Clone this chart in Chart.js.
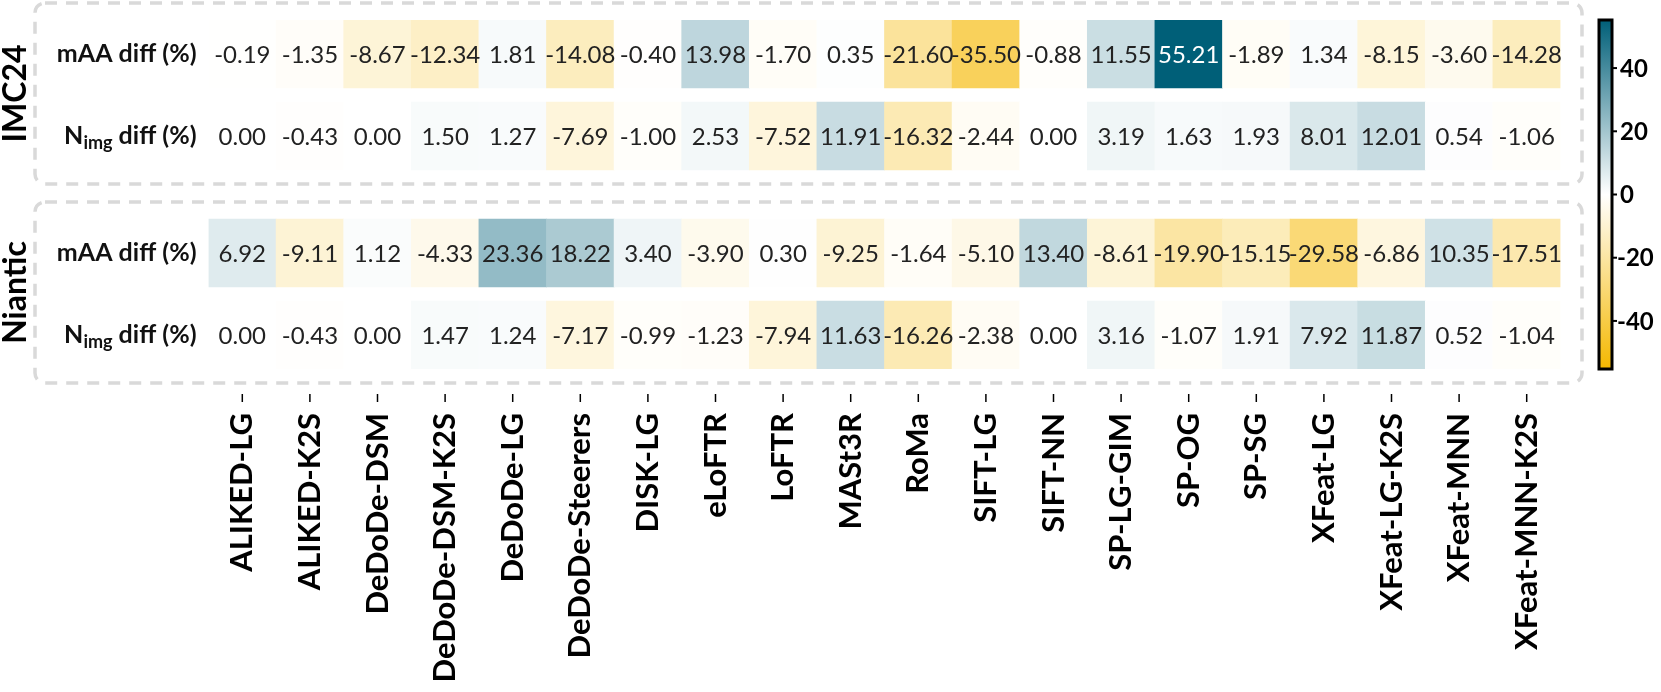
<!DOCTYPE html>
<html>
<head>
<meta charset="utf-8">
<script src="https://cdn.jsdelivr.net/npm/chart.js"></script>
<style>
  body { margin: 0; background: #fff; }
  #wrap { width: 1661px; height: 692px; }
</style>
</head>
<body>
<div id="wrap"><canvas id="heatChart" width="1661" height="692"></canvas></div>
<script>
const methods = ["ALIKED-LG", "ALIKED-K2S", "DeDoDe-DSM", "DeDoDe-DSM-K2S", "DeDoDe-LG",
  "DeDoDe-Steerers", "DISK-LG", "eLoFTR", "LoFTR", "MASt3R", "RoMa", "SIFT-LG", "SIFT-NN",
  "SP-LG-GIM", "SP-OG", "SP-SG", "XFeat-LG", "XFeat-LG-K2S", "XFeat-MNN", "XFeat-MNN-K2S"];

const imcMaa = [-0.19, -1.35, -8.67, -12.34, 1.81, -14.08, -0.40, 13.98, -1.70, 0.35,
  -21.60, -35.50, -0.88, 11.55, 55.21, -1.89, 1.34, -8.15, -3.60, -14.28];
const imcNimg = [0.00, -0.43, 0.00, 1.50, 1.27, -7.69, -1.00, 2.53, -7.52, 11.91,
  -16.32, -2.44, 0.00, 3.19, 1.63, 1.93, 8.01, 12.01, 0.54, -1.06];
const nianticMaa = [6.92, -9.11, 1.12, -4.33, 23.36, 18.22, 3.40, -3.90, 0.30, -9.25,
  -1.64, -5.10, 13.40, -8.61, -19.90, -15.15, -29.58, -6.86, 10.35, -17.51];
const nianticNimg = [0.00, -0.43, 0.00, 1.47, 1.24, -7.17, -0.99, -1.23, -7.94, 11.63,
  -16.26, -2.38, 0.00, 3.16, -1.07, 1.91, 7.92, 11.87, 0.52, -1.04];

const groups = ["IMC24", "Niantic"];
const rowKinds = ["maa", "nimg"];
const cbTicks = [-40, -20, 0, 20, 40];
const cbLimit = 55.21;

// row bands on the y scale (units = px of the plot area)
const bands = [[0, 68], [82, 150], [199, 267], [281, 349]];
const rows = [imcMaa, imcNimg, nianticMaa, nianticNimg];

const POS = [0, 95, 120];   // teal end
const NEG = [245, 184, 0];  // amber end

function cellRgb(v) {
  const t = Math.min(Math.abs(v) / cbLimit, 1);
  const end = v >= 0 ? POS : NEG;
  return end.map(c => Math.round(255 + (c - 255) * t));
}
function cellColor(v) {
  return "rgb(" + cellRgb(v).join(",") + ")";
}
function textColor(v) {
  const c = cellRgb(v);
  const lum = 0.299 * c[0] + 0.587 * c[1] + 0.114 * c[2];
  return lum < 120 ? "#ffffff" : "#222222";
}

const datasets = rows.map((vals, r) => ({
  label: groups[Math.floor(r / 2)] + " " + rowKinds[r % 2],
  values: vals,
  data: vals.map(() => bands[r]),
  backgroundColor: vals.map(cellColor),
  borderWidth: 0,
  borderSkipped: false,
  yAxisID: "y",
  grouped: false,
  barPercentage: 1,
  categoryPercentage: 1
}));

const cellText = {
  id: "cellText",
  afterDatasetsDraw(chart) {
    const ctx = chart.ctx;
    ctx.save();
    ctx.font = "24px Lato";
    ctx.textAlign = "center";
    ctx.textBaseline = "middle";
    chart.data.datasets.forEach((ds, di) => {
      chart.getDatasetMeta(di).data.forEach((bar, i) => {
        const v = ds.values[i];
        ctx.fillStyle = textColor(v);
        ctx.fillText(v.toFixed(2), bar.x, (bar.y + bar.base) / 2 + 1);
      });
    });
    ctx.restore();
  }
};

function roundRect(ctx, x, y, w, h, r) {
  ctx.beginPath();
  ctx.moveTo(x + r, y);
  ctx.lineTo(x + w - r, y);
  ctx.arcTo(x + w, y, x + w, y + r, r);
  ctx.lineTo(x + w, y + h - r);
  ctx.arcTo(x + w, y + h, x + w - r, y + h, r);
  ctx.lineTo(x + r, y + h);
  ctx.arcTo(x, y + h, x, y + h - r, r);
  ctx.lineTo(x, y + r);
  ctx.arcTo(x, y, x + r, y, r);
  ctx.closePath();
}

const decor = {
  id: "decor",
  afterDraw(chart) {
    const ctx = chart.ctx;
    const ys = chart.scales.y;
    const xs = chart.scales.x;
    const cb = chart.scales.cb;
    const area = chart.chartArea;
    ctx.save();

    // row labels
    ctx.fillStyle = "#111";
    ctx.textBaseline = "middle";
    const big = "bold 25px Lato", small = "bold 18px Lato";
    rows.forEach((vals, r) => {
      const yc = (ys.getPixelForValue(bands[r][0]) + ys.getPixelForValue(bands[r][1])) / 2;
      const xr = area.left - 12;
      if (rowKinds[r % 2] === "maa") {
        ctx.font = big;
        ctx.textAlign = "right";
        ctx.fillText("mAA diff (%)", xr, yc);
      } else {
        ctx.textAlign = "left";
        ctx.font = big;
        const wN = ctx.measureText("N").width;
        const wD = ctx.measureText(" diff (%)").width;
        ctx.font = small;
        const wS = ctx.measureText("img").width;
        let x = xr - wN - wS - wD;
        ctx.font = big;
        ctx.fillText("N", x, yc);
        x += wN;
        ctx.font = small;
        ctx.fillText("img", x, yc + 7);
        x += wS;
        ctx.font = big;
        ctx.fillText(" diff (%)", x, yc);
      }
    });

    // dashed group boxes and group titles
    [[0, 1], [2, 3]].forEach((pair, g) => {
      const top = ys.getPixelForValue(bands[pair[0]][0]) - 17;
      const bot = ys.getPixelForValue(bands[pair[1]][1]) + 14;
      ctx.setLineDash([12, 9]);
      ctx.lineWidth = 3.5;
      ctx.strokeStyle = "#d9d9d9";
      roundRect(ctx, 35, top, 1582 - 35, bot - top, 10);
      ctx.stroke();
      ctx.setLineDash([]);
      ctx.save();
      ctx.translate(16, (top + bot) / 2);
      ctx.rotate(-Math.PI / 2);
      ctx.font = "bold 32px Lato";
      ctx.fillStyle = "#000";
      ctx.textAlign = "center";
      ctx.textBaseline = "middle";
      ctx.fillText(groups[g], 0, 0);
      ctx.restore();
    });

    // x tick marks
    ctx.strokeStyle = "#000";
    ctx.lineWidth = 1.5;
    methods.forEach((m, i) => {
      const x = xs.getPixelForTick(i);
      ctx.beginPath();
      ctx.moveTo(x, area.bottom + 25);
      ctx.lineTo(x, area.bottom + 33);
      ctx.stroke();
    });

    // colour bar
    const x0 = 1599, x1 = 1612;
    const yTop = cb.getPixelForValue(cbLimit);
    const yBot = cb.getPixelForValue(-cbLimit);
    const grad = ctx.createLinearGradient(0, yTop, 0, yBot);
    grad.addColorStop(0, cellColor(cbLimit));
    grad.addColorStop(0.5, "#ffffff");
    grad.addColorStop(1, cellColor(-cbLimit));
    ctx.fillStyle = grad;
    ctx.fillRect(x0, yTop, x1 - x0, yBot - yTop);
    ctx.lineWidth = 3;
    ctx.strokeStyle = "#000";
    ctx.strokeRect(x0, yTop, x1 - x0, yBot - yTop);
    ctx.font = "bold 24px Lato";
    ctx.fillStyle = "#000";
    ctx.textAlign = "left";
    ctx.textBaseline = "middle";
    ctx.lineWidth = 2;
    cbTicks.forEach(t => {
      const y = cb.getPixelForValue(t);
      ctx.beginPath();
      ctx.moveTo(x1, y);
      ctx.lineTo(x1 + 5, y);
      ctx.stroke();
      ctx.fillText(String(t), t < 0 ? x1 + 5 : x1 + 8, y + 1);
    });
    ctx.restore();
  }
};

const ctx = document.getElementById("heatChart").getContext("2d");
const heatChart = new Chart(ctx, {
  type: "bar",
  data: { labels: methods, datasets: datasets },
  options: {
    responsive: false,
    animation: false,
    devicePixelRatio: 1,
    layout: { padding: { left: 208.5, right: 100.5, top: 20, bottom: 0 } },
    plugins: { legend: { display: false }, tooltip: { enabled: false } },
    scales: {
      x: {
        type: "category",
        grid: { display: false, drawTicks: false },
        border: { display: false },
        ticks: {
          autoSkip: false,
          minRotation: 90,
          maxRotation: 90,
          padding: 44,
          color: "#000",
          font: { family: "Lato", weight: "bold", size: 31 }
        },
        afterFit(scale) { scale.height = 323; }
      },
      y: { type: "linear", reverse: true, min: 0, max: 349, display: false },
      cb: { type: "linear", axis: "y", min: -cbLimit, max: cbLimit, display: false }
    }
  },
  plugins: [cellText, decor]
});
</script>
</body>
</html>
